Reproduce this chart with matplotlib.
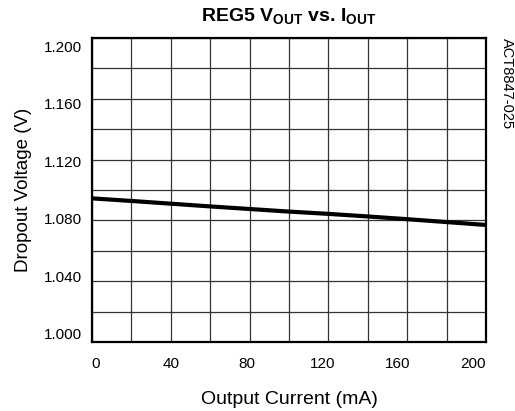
import matplotlib
matplotlib.use('Agg')
import matplotlib.pyplot as plt
import numpy as np

# data
current_ma = [0, 20, 40, 60, 80, 100, 120, 140, 160, 180, 200]
dropout_v = [1.0945, 1.0928, 1.0910, 1.0892, 1.0875, 1.0858, 1.0843, 1.0826, 1.0808, 1.0789, 1.0770]
x_ticks = [0, 40, 80, 120, 160, 200]
y_ticks = [1.000, 1.040, 1.080, 1.120, 1.160, 1.200]

plt.rcParams['font.family'] = ['Liberation Sans', 'DejaVu Sans']
plt.rcParams['mathtext.fontset'] = 'custom'
plt.rcParams['mathtext.rm'] = 'Liberation Sans'
plt.rcParams['mathtext.bf'] = 'Liberation Sans:bold'

fig = plt.figure(figsize=(5.15, 4.11), dpi=100)
ax = fig.add_axes([0.1786, 0.1679, 0.7651, 0.7396])

ax.plot(current_ma, dropout_v, color='black', linewidth=3, solid_capstyle='butt', zorder=3)

ax.set_xlim(0, 200)
ax.set_ylim(1.0, 1.2)

# grid on every 20 mA / 0.020 V (minor ticks), labels on the major ticks
ax.set_xticks(np.arange(0, 201, 20), minor=True)
ax.set_yticks(np.arange(1.0, 1.2001, 0.02), minor=True)
ax.grid(True, which='minor', color='#333333', linewidth=0.9)

# the original sheet squeezes the labels slightly toward the middle
yc = 1.1
ax.set_xticks([v * 0.957 + 2 for v in x_ticks])
ax.set_xticklabels([str(v) for v in x_ticks])
ax.set_yticks([yc + (v - yc) * 0.947 for v in y_ticks])
ax.set_yticklabels(['%.3f' % v for v in y_ticks])
ax.tick_params(which='both', length=0, labelsize=11)
ax.tick_params(axis='x', pad=11)
ax.tick_params(axis='y', pad=7)

for s in ax.spines.values():
    s.set_linewidth(1.6)

ax.set_xlabel('Output Current (mA)', fontsize=14, labelpad=14)
ax.set_ylabel('Dropout Voltage (V)', fontsize=13.5, labelpad=9)
ax.set_title(r'REG5 V$_{\mathbf{OUT}}$ vs. I$_{\mathbf{OUT}}$', fontsize=14,
             fontweight='bold', pad=12)
fig.text(0.984, 0.908, 'ACT8847-025', rotation=-90, fontsize=10.5, va='top', ha='center')

fig.savefig('out.png', dpi=100)
plt.close(fig)
